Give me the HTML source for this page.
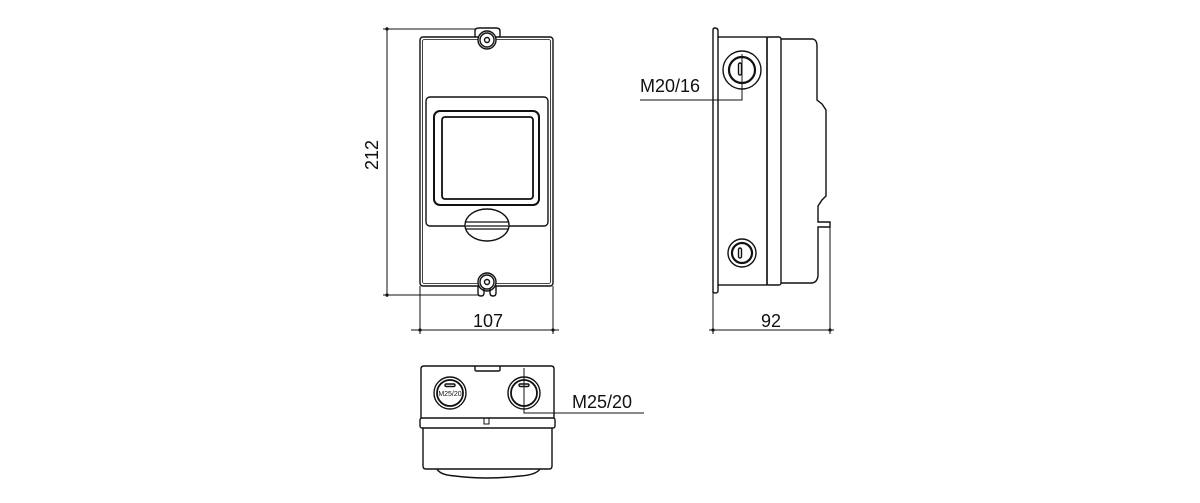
<!DOCTYPE html>
<html><head><meta charset="utf-8"><style>
html,body{margin:0;padding:0;background:#fff;}
svg{display:block;}
text{font-family:"Liberation Sans",sans-serif;fill:#111;}
</style></head><body>
<svg width="1200" height="503" viewBox="0 0 1200 503" xmlns="http://www.w3.org/2000/svg">
<g fill="none" stroke="#111" stroke-width="1.4">
<!-- FRONT VIEW -->
<rect x="420" y="37" width="133" height="249" rx="3"/>
<rect x="422.5" y="39.5" width="128" height="244" rx="2" stroke-width="0.8"/>
<path d="M475 37 V31 Q475 28 479 28 H496 Q500 28 500 31 V37"/>
<circle cx="487" cy="40" r="9" fill="#fff"/>
<circle cx="487" cy="40" r="7"/>
<circle cx="487" cy="40" r="2.5"/>
<rect x="426" y="97" width="122" height="129" rx="4"/>
<rect x="434" y="111" width="105" height="94" rx="6" stroke-width="2"/>
<rect x="442" y="117" width="91" height="82" rx="3" stroke-width="1.8"/>
<ellipse cx="487" cy="225" rx="22" ry="16" fill="#fff"/>
<path d="M465 222 H509 M466 226 H508 M466 229 H508" stroke-width="1.2"/>
<circle cx="487" cy="282" r="9" fill="#fff"/>
<circle cx="487" cy="282" r="7"/>
<circle cx="487" cy="282" r="2.5"/>
<path d="M478 286 V293 Q478 296 481 296 Q484 296 484 293 V288 M490 288 V293 Q490 296 493 296 Q496 296 496 293 V286"/>
<!-- dims front -->
<path d="M383 29 H476 M383 295 H478 M387 27 V297" stroke-width="1"/>
<path d="M420 286 V334 M553 286 V334 M411 330 H559" stroke-width="1"/>
<!-- SIDE VIEW -->
<path d="M713 293 V30 Q713 28 715 28 Q718 28 718 31 V37 M718 285 V291 Q718 293 715 293 Q713 293 713 291"/>
<rect x="718" y="37" width="49" height="248"/>
<rect x="767" y="37" width="14" height="248" rx="2"/>
<path d="M781 39 H813 Q817 40 817 46 V100 L822 104 L826 110 V196 L822 200 L818 206 V222 H830 V227 H818 V276 Q817 283 811 283 H781"/>
<circle cx="742" cy="70" r="19"/>
<circle cx="742" cy="70" r="13" stroke-width="2.2"/>
<rect x="738.5" y="63" width="3" height="12" rx="1.5"/>
<circle cx="742" cy="253" r="14"/>
<circle cx="742" cy="253" r="10" stroke-width="2.2"/>
<rect x="738.5" y="248" width="3" height="10" rx="1.5"/>
<path d="M742 54 V100 H640" stroke-width="1"/>
<path d="M713 293 V334 M830 227 V334 M709 330 H834" stroke-width="1"/>
<!-- BOTTOM VIEW -->
<path d="M421 418 V369 Q421 366 424 366 H551 Q554 366 554 369 V418"/>
<path d="M475 366 V370 Q475 371 477 371 H498 Q500 371 500 370 V366"/>
<rect x="420" y="418" width="135" height="10" rx="2"/>
<rect x="484" y="418" width="5" height="6" stroke-width="1"/>
<path d="M423 428 V466 Q423 469 426 469 H549 Q552 469 552 466 V428"/>
<path d="M437 469 Q440 475 455 476 Q487 480 520 476 Q536 475 540 469"/>
<circle cx="450" cy="393" r="16"/>
<circle cx="450" cy="393" r="13" stroke-width="1.8"/>
<rect x="445" y="384" width="10" height="2.5" rx="1.2"/>
<circle cx="524" cy="393" r="16"/>
<circle cx="524" cy="393" r="13" stroke-width="1.8"/>
<rect x="519" y="384" width="10" height="2.5" rx="1.2"/>
<path d="M524 368 V413 H644" stroke-width="1"/>
</g>
<g fill="#111">
<circle cx="387" cy="29" r="1.6"/><circle cx="387" cy="295" r="1.6"/>
<circle cx="420" cy="330" r="1.6"/><circle cx="553" cy="330" r="1.6"/>
<circle cx="713" cy="330" r="1.6"/><circle cx="830" cy="330" r="1.6"/>
</g>
<text x="378" y="155" font-size="18" text-anchor="middle" transform="rotate(-90 378 155)">212</text>
<text x="488" y="327" font-size="18" text-anchor="middle">107</text>
<text x="771" y="327" font-size="18" text-anchor="middle">92</text>
<text x="640" y="92" font-size="18">M20/16</text>
<text x="572" y="408" font-size="18">M25/20</text>
<text x="450" y="396" font-size="7" text-anchor="middle">M25/20</text>
</svg>
</body></html>
